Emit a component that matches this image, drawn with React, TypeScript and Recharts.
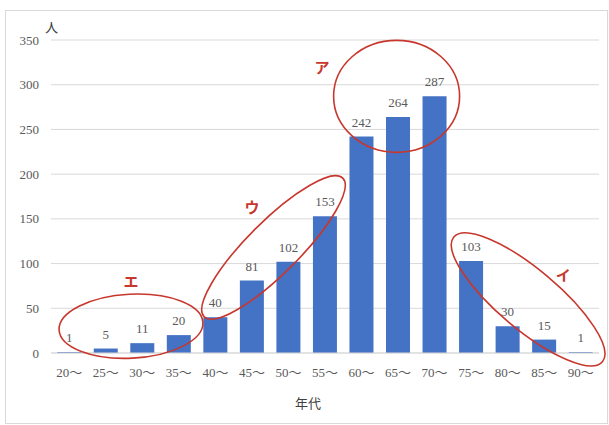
import React from "react";
import {
  BarChart,
  Bar,
  XAxis,
  YAxis,
  CartesianGrid,
  LabelList,
  ReferenceDot,
} from "recharts";

// 年代別の人数
const categories = ["20～", "25～", "30～", "35～", "40～", "45～", "50～", "55～", "60～", "65～", "70～", "75～", "80～", "85～", "90～"];
const counts = [1, 5, 11, 20, 40, 81, 102, 153, 242, 264, 287, 103, 30, 15, 1];
const yTicks = [0, 50, 100, 150, 200, 250, 300, 350];

// 手書きの丸囲み（カテゴリ番号と値で中心を指定）
const ovalTags = ["ア", "イ", "ウ", "エ"];
const ovalIdx = [8.96, 12.56, 5.59, 1.69];
const ovalVal = [287, 60, 118, 30];
const tagIdx = [6.92, 13.52, 5.0, 1.69];
const tagVal = [320, 88, 164, 81];

const ovalSize: Record<string, { rx: number; ry: number; rot: number }> = {
  ア: { rx: 63, ry: 56, rot: 0 },
  イ: { rx: 97, ry: 30, rot: 40 },
  ウ: { rx: 98, ry: 26, rot: -45 },
  エ: { rx: 72, ry: 32, rot: -3 },
};

const data = categories.map((c, i) => ({ c, i, v: counts[i] }));

const SERIF = "'Liberation Serif', 'Noto Sans CJK JP', serif";
const GRAY = "#595959";
const RED = "#c8372d";

export default function App() {
  return (
    <div style={{ position: "absolute", left: 0, top: 0, width: 609, height: 425, background: "#fff" }}>
      <div
        style={{
          position: "absolute",
          left: 5,
          top: 10,
          width: 601,
          height: 412,
          border: "1px solid #d9d9d9",
        }}
      />
      <div style={{ position: "absolute", left: 0, top: 0 }}>
        <BarChart
          width={609}
          height={425}
          data={data}
          margin={{ top: 40, right: 10, bottom: 42, left: 6 }}
          barCategoryGap="17%"
        >
          <CartesianGrid vertical={false} stroke="#d9d9d9" />
          <XAxis
            dataKey="c"
            axisLine={{ stroke: "#d9d9d9" }}
            tickLine={false}
            tickMargin={9}
            height={30}
            interval={0}
            tick={{ fill: GRAY, fontSize: 13, fontFamily: SERIF }}
            label={{ value: "年代", position: "bottom", offset: 16, dx: -17, fill: "#404040", fontSize: 13, fontFamily: SERIF }}
          />
          <XAxis xAxisId="idx" dataKey="i" type="number" domain={[-0.5, 14.5]} allowDataOverflow hide />
          <YAxis
            width={45}
            domain={[0, 350]}
            ticks={yTicks}
            axisLine={false}
            tickLine={false}
            tickMargin={6}
            tick={{ fill: GRAY, fontSize: 13, fontFamily: SERIF }}
            label={{ value: "人", position: "top", offset: 8, dx: 23, fill: "#404040", fontSize: 13, fontFamily: SERIF }}
          />
          <Bar dataKey="v" fill="#4472C4" isAnimationActive={false}>
            <LabelList dataKey="v" position="top" offset={10} fill={GRAY} fontSize={13} fontFamily={SERIF} />
          </Bar>
          {ovalTags.map((t, k) => (
            <ReferenceDot
              key={"o" + t}
              xAxisId="idx"
              x={ovalIdx[k]}
              y={ovalVal[k]}
              shape={(p: any) => {
                const s = ovalSize[t];
                return (
                  <ellipse
                    cx={p.cx}
                    cy={p.cy}
                    rx={s.rx}
                    ry={s.ry}
                    fill="none"
                    stroke={RED}
                    strokeWidth={1.6}
                    transform={`rotate(${s.rot} ${p.cx} ${p.cy})`}
                  />
                );
              }}
            />
          ))}
          {ovalTags.map((t, k) => (
            <ReferenceDot
              key={"t" + t}
              xAxisId="idx"
              x={tagIdx[k]}
              y={tagVal[k]}
              shape={(p: any) => (
                <text
                  x={p.cx}
                  y={p.cy}
                  textAnchor="middle"
                  dominantBaseline="central"
                  fill={RED}
                  fontSize={15}
                  fontWeight="bold"
                  fontFamily="'Noto Sans CJK JP', sans-serif"
                >
                  {t}
                </text>
              )}
            />
          ))}
        </BarChart>
      </div>
    </div>
  );
}
